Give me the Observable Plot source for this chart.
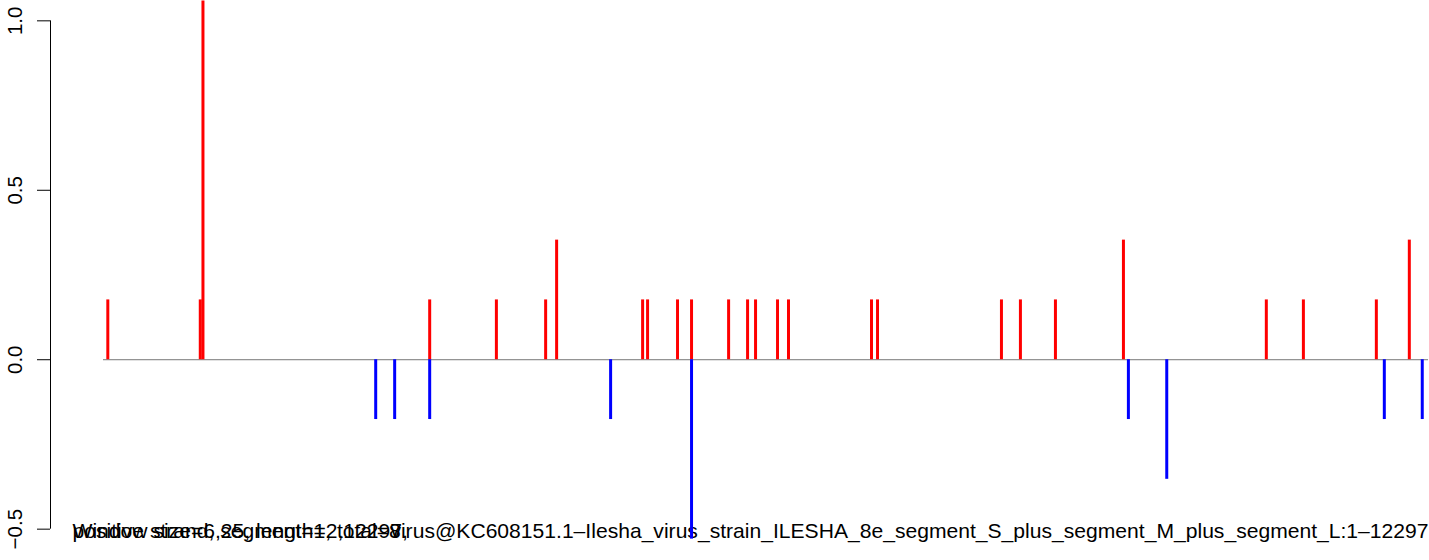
<!DOCTYPE html>
<html><head><meta charset="utf-8">
<script src="https://cdn.jsdelivr.net/npm/d3@7"></script>
<script src="https://cdn.jsdelivr.net/npm/@observablehq/plot@0.6"></script>
<style>body{margin:0;overflow:hidden;background:#fff}</style>
</head><body><div id="chart"></div>
<script>
const seqLength = 12297;
const plusPositions = [41, 899, 924, 3028, 3647, 4104, 4206, 5004, 5050, 5328, 5458, 5802, 5978, 6052, 6256, 6358, 7128, 7184, 8334, 8510, 8835, 9466, 10792, 11136, 11813, 12119];
const plusValues    = [0.1765, 0.1765, 1.0588, 0.1765, 0.1765, 0.1765, 0.3529, 0.1765, 0.1765, 0.1765, 0.1765, 0.1765, 0.1765, 0.1765, 0.1765, 0.1765, 0.1765, 0.1765, 0.1765, 0.1765, 0.1765, 0.3529, 0.1765, 0.1765, 0.1765, 0.3529];
const minusPositions = [2527, 2703, 3028, 4707, 5458, 9512, 9868, 11887, 12239];
const minusValues    = [-0.1765, -0.1765, -0.1765, -0.1765, -0.5294, -0.1765, -0.3529, -0.1765, -0.1765];
const yTicks = [-0.5, 0, 0.5, 1.0];
const footerLeft = ["Window size=6,25, length=2,12297,", "positive strand, segment=1, total=8"];
const footerRight = ["virus@KC608151.1\u2013Ilesha_virus_strain_ILESHA_8e_segment_S_plus_segment_M_plus_segment_L:1\u201312297"];

const plus = plusPositions.map((p, i) => ({position: p, value: plusValues[i]}));
const minus = minusPositions.map((p, i) => ({position: p, value: minusValues[i]}));
const xPad = 0.04 * (seqLength - 1);
const xDomain = [1 - xPad, seqLength + xPad];
const yPad = 0.04 * (yTicks[3] - yTicks[0]);
const yDomain = [yTicks[0] - yPad, yTicks[3] + yPad];

const font = "'Liberation Sans', Arial, Helvetica, sans-serif";
const chart = Plot.plot({
  width: 1429,
  height: 560,
  marginLeft: 50,
  marginRight: 0,
  marginTop: 0,
  marginBottom: 11,
  style: {fontFamily: font, fontSize: "20.5px", color: "#000", background: "#fff", overflow: "hidden"},
  x: {domain: xDomain, range: [50, 1481], axis: null},
  y: {domain: yDomain, axis: null},
  marks: [
    Plot.axisY(yTicks, {anchor: "left", label: null, tickSize: 13, tickPadding: 16, tickRotate: -90, tickFormat: d3.format(".1f"), fontSize: 20.5, stroke: "#000"}),
    Plot.ruleX([xDomain[0]], {y1: yTicks[0], y2: yTicks[3], stroke: "#000", strokeWidth: 1}),
    Plot.ruleY([0], {x1: 1, x2: seqLength, stroke: "#777", strokeWidth: 1}),
    Plot.text(footerLeft, {text: d => d, frameAnchor: "bottom-left", dx: 22, dy: -11.5, textAnchor: "start", lineAnchor: "bottom", fontSize: 21.1, fill: "#000"}),
    Plot.text(footerRight, {text: d => d, frameAnchor: "bottom-right", dx: -1, dy: -11.5, textAnchor: "end", lineAnchor: "bottom", fontSize: 21.1, fill: "#000"}),
    Plot.ruleX(plus, {x: "position", y1: 0, y2: "value", stroke: "#ff0000", strokeWidth: 3, strokeLinecap: "butt"}),
    Plot.ruleX(minus, {x: "position", y1: 0, y2: "value", stroke: "#0000ff", strokeWidth: 3, strokeLinecap: "butt"})
  ]
});
document.getElementById("chart").appendChild(chart);
</script>
</body></html>
